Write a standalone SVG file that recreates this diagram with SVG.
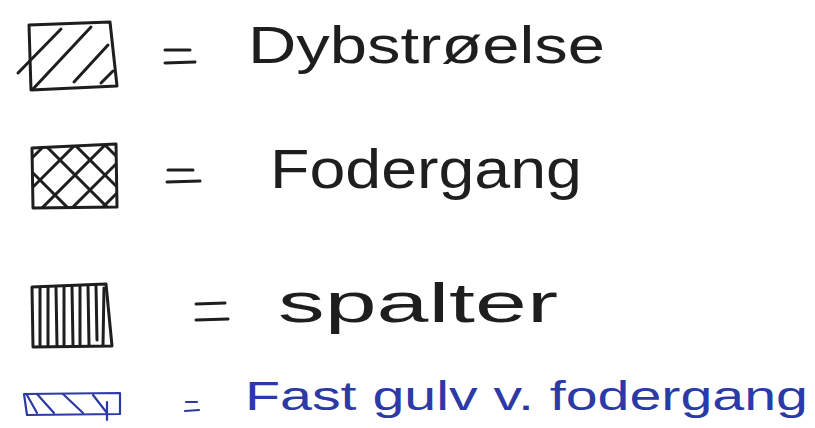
<svg xmlns="http://www.w3.org/2000/svg" width="815" height="428" viewBox="0 0 815 428">
<style>
.ink{fill:none;stroke:#1e1e1e;stroke-width:3;stroke-linecap:round;stroke-linejoin:round}
.blue{fill:none;stroke:#2c3aa6;stroke-width:2.2;stroke-linecap:round;stroke-linejoin:round}
.lbl{font-family:"Liberation Sans",Arial,sans-serif;fill:#1e1e1e}
.lblb{font-family:"Liberation Sans",Arial,sans-serif;fill:#2c3aa6}
</style>
<defs>
<clipPath id="c2"><path d="M32,148 L116,144 L117,207 L33,208 Z"/></clipPath>
</defs>
<rect width="815" height="428" fill="#ffffff"/>
<g id="dybstroelse">
<path class="ink" d="M29,25 L110,22 L117,86 L31,90 Z"/>
<path class="ink" d="M18,73 L61,29 M33,89 L91,27 M74,82 L108,45 M101,83 L113,71"/>
<path class="ink" d="M165,50 L190,50 M165,63 L195,62"/>
<text class="lbl" x="248" y="63" font-size="52" textLength="357" lengthAdjust="spacingAndGlyphs">Dybstrøelse</text>
</g>
<g id="fodergang">
<path class="ink" d="M32,148 L116,144 L117,207 L33,208 Z"/>
<g clip-path="url(#c2)">
<path class="ink" d="M20,170 L50,140 M20,200 L80,140 M30,220 L110,140 M60,220 L130,150 M90,220 L130,180 M20,160 L80,220 M40,140 L110,210 M70,140 L130,200 M100,140 L130,170"/>
</g>
<path class="ink" d="M168,170 L193,170 M167,182 L200,181"/>
<text class="lbl" x="270" y="188" font-size="56" textLength="312" lengthAdjust="spacingAndGlyphs">Fodergang</text>
</g>
<g id="spalter">
<path class="ink" d="M32,287 L106,284 L112,346 L33,347 Z"/>
<path class="ink" d="M40,288 L40,346 M48,288 L48,346 M56,288 L57,346 M64,287 L64,346 M72,287 L73,346 M80,286 L80,346 M88,286 L89,345 M96,286 L97,340 M104,288 L103,345"/>
<path class="ink" d="M196,304 L225,303 M196,320 L228,319"/>
<text class="lbl" x="278" y="322" font-size="56" textLength="280" lengthAdjust="spacingAndGlyphs">spalter</text>
</g>
<g id="fast-gulv">
<path class="blue" d="M24,394 L120,393 L120,414 L27,415 Z"/>
<path class="blue" d="M27,395 L37,413 M37,394 L54,413 M63,394 L83,413 M93,395 L107,413 M107,402 L107,420"/>
<path class="blue" d="M186,402 L197,402 M185,411 L199,410"/>
<text class="lblb" x="245" y="410" font-size="40" textLength="563" lengthAdjust="spacingAndGlyphs">Fast gulv v. fodergang</text>
</g>
</svg>
